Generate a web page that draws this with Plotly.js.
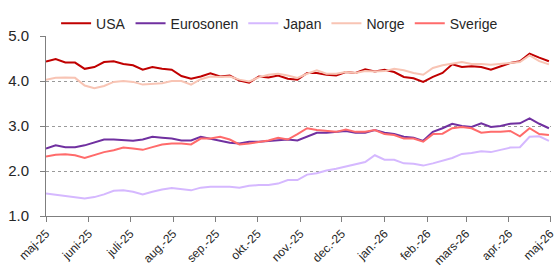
<!DOCTYPE html>
<html>
<head>
<meta charset="utf-8">
<script src="https://cdn.plot.ly/plotly-3.0.1.min.js"></script>
<style>html,body{margin:0;padding:0;background:#fff;}#chart{width:555px;height:270px;}</style>
</head>
<body>
<div id="chart"></div>
<script>
const dates = ["2025-05-01","2025-05-08","2025-05-15","2025-05-22","2025-05-29","2025-06-05","2025-06-12","2025-06-19","2025-06-26","2025-07-03","2025-07-10","2025-07-17","2025-07-24","2025-07-31","2025-08-07","2025-08-14","2025-08-21","2025-08-28","2025-09-04","2025-09-11","2025-09-18","2025-09-25","2025-10-02","2025-10-09","2025-10-16","2025-10-23","2025-10-30","2025-11-06","2025-11-13","2025-11-20","2025-11-27","2025-12-04","2025-12-11","2025-12-18","2025-12-25","2026-01-01","2026-01-08","2026-01-15","2026-01-22","2026-01-29","2026-02-05","2026-02-12","2026-02-19","2026-02-26","2026-03-05","2026-03-12","2026-03-19","2026-03-26","2026-04-02","2026-04-09","2026-04-16","2026-04-23","2026-04-30"];
const usa = [4.43,4.49,4.41,4.41,4.27,4.31,4.42,4.44,4.38,4.35,4.25,4.31,4.27,4.25,4.11,4.05,4.10,4.17,4.10,4.12,4.01,3.96,4.10,4.08,4.12,4.05,4.03,4.18,4.18,4.14,4.12,4.20,4.18,4.26,4.21,4.25,4.20,4.09,4.06,3.98,4.09,4.18,4.37,4.31,4.33,4.31,4.25,4.32,4.40,4.44,4.61,4.52,4.44];
const eurosonen = [2.50,2.57,2.53,2.53,2.57,2.63,2.70,2.70,2.68,2.67,2.70,2.76,2.74,2.72,2.68,2.68,2.76,2.72,2.68,2.63,2.61,2.65,2.65,2.67,2.68,2.70,2.68,2.77,2.85,2.85,2.87,2.89,2.85,2.85,2.91,2.85,2.82,2.76,2.74,2.67,2.87,2.95,3.05,3.00,2.98,3.06,2.98,3.00,3.05,3.06,3.17,3.05,2.95];
const japan = [1.50,1.47,1.44,1.42,1.39,1.42,1.48,1.56,1.57,1.54,1.48,1.54,1.59,1.62,1.59,1.57,1.63,1.65,1.65,1.65,1.63,1.67,1.69,1.69,1.72,1.80,1.80,1.92,1.95,2.01,2.05,2.10,2.14,2.20,2.35,2.25,2.25,2.17,2.16,2.12,2.17,2.23,2.29,2.38,2.40,2.44,2.42,2.47,2.52,2.53,2.76,2.77,2.67];
const norge = [4.03,4.07,4.08,4.07,3.90,3.84,3.89,3.98,4.00,3.98,3.92,3.94,3.95,4.00,4.00,3.92,4.04,4.10,4.09,4.10,4.03,3.99,4.08,4.14,4.16,4.12,4.07,4.16,4.24,4.16,4.16,4.20,4.18,4.22,4.21,4.22,4.27,4.24,4.18,4.14,4.29,4.35,4.38,4.42,4.38,4.38,4.36,4.38,4.40,4.42,4.57,4.44,4.37];
const sverige = [2.32,2.36,2.37,2.35,2.29,2.35,2.42,2.46,2.52,2.50,2.47,2.53,2.59,2.61,2.61,2.59,2.72,2.72,2.76,2.70,2.59,2.61,2.65,2.68,2.74,2.70,2.82,2.95,2.91,2.89,2.87,2.92,2.87,2.87,2.91,2.82,2.80,2.72,2.72,2.65,2.82,2.83,2.95,2.98,2.95,2.85,2.87,2.87,2.89,2.77,2.95,2.82,2.80];

const tickDates = ["2025-05-01","2025-06-01","2025-07-01","2025-08-01","2025-09-01","2025-10-01","2025-11-01","2025-12-01","2026-01-01","2026-02-01","2026-03-01","2026-04-01","2026-05-01"];
const tickLabels = ["maj-25","juni-25","juli-25","aug.-25","sep.-25","okt.-25","nov.-25","dec.-25","jan.-26","feb.-26","mars-26","apr.-26","maj-26"];
const yTicks = [1,2,3,4,5];
const yLabels = ["1.0","2.0","3.0","4.0","5.0"];

const names = ["USA","Eurosonen","Japan","Norge","Sverige"];
const series = [usa, eurosonen, japan, norge, sverige];
const colors = ["#C00000","#7030A0","#D5B8FF","#F8C4B4","#FF6B6B"];

const traces = series.map((s,i)=>({
  x: dates, y: s, name: names[i], type: "scatter", mode: "lines",
  line: {color: colors[i], width: 2}
}));

const layout = {
  width: 555, height: 270,
  margin: {l: 46, r: 4, t: 35.5, b: 54},
  paper_bgcolor: "#fff", plot_bgcolor: "#fff",
  font: {family: "Liberation Sans, Arial, sans-serif", size: 14, color: "#262626"},
  showlegend: true,
  legend: {orientation: "h", x: 0.02, xanchor: "left", y: 1.068, yanchor: "middle",
           font: {size: 14, color: "#262626"}, bgcolor: "rgba(0,0,0,0)", tracegroupgap: 0},
  xaxis: {
    type: "date", range: ["2025-05-01", "2026-05-01 12:00"],
    tickvals: tickDates, ticktext: tickLabels, tickangle: -45,
    ticks: "outside", ticklen: 5, tickcolor: "#7f7f7f",
    showline: true, linecolor: "#7f7f7f", linewidth: 1,
    showgrid: false, zeroline: false, ticklabeloverflow: "allow",
    tickfont: {size: 12, color: "#262626"}
  },
  yaxis: {
    range: [1, 5], tickvals: yTicks, ticktext: yLabels,
    ticks: "outside", ticklen: 5, tickcolor: "#7f7f7f", ticklabelstandoff: 8,
    showline: true, linecolor: "#7f7f7f", linewidth: 1,
    showgrid: true, gridcolor: "#9a9a9a", griddash: "dot", gridwidth: 1,
    zeroline: false, tickfont: {size: 15, color: "#262626"}
  }
};

Plotly.newPlot("chart", traces, layout, {staticPlot: true, displayModeBar: false});
</script>
</body>
</html>
